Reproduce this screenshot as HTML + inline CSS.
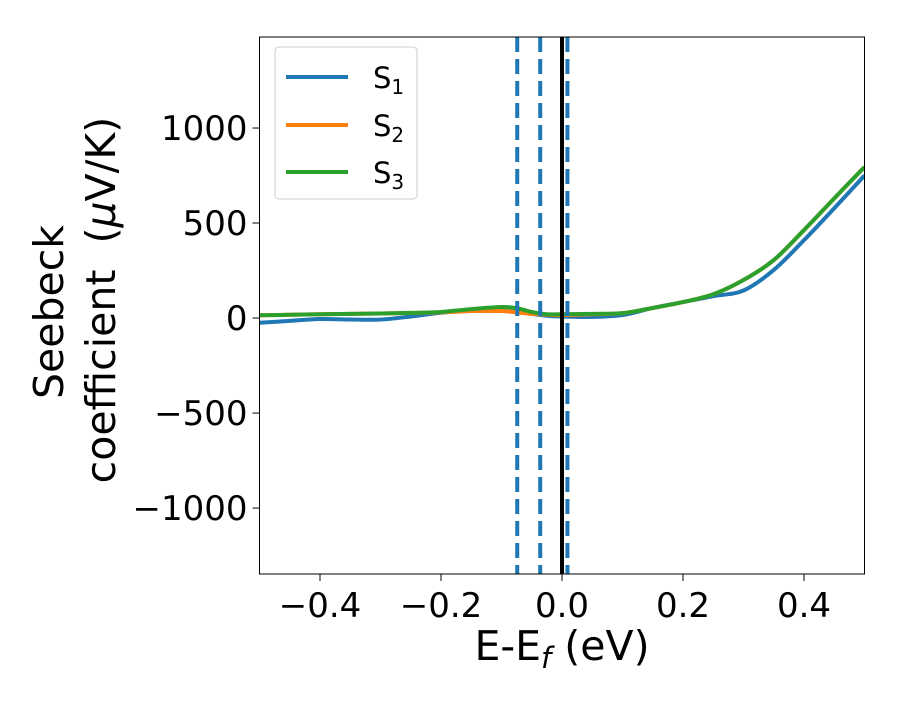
<!DOCTYPE html>
<html><head><meta charset="utf-8"><style>
body{margin:0;background:#fff;}
svg text{font-family:"DejaVu Sans","Liberation Sans",sans-serif;fill:#000;}
</style></head><body>
<svg id="chart" width="900" height="700" xmlns="http://www.w3.org/2000/svg">
<g id="plot"></g>
</svg>
<script>
const xs = [-0.5,-0.45,-0.4,-0.35,-0.3,-0.25,-0.2,-0.15,-0.1,-0.075,-0.05,-0.025,0,0.05,0.1,0.15,0.2,0.25,0.3,0.35,0.4,0.45,0.5];
const s1 = [-25,-15,-5,-8,-8,8,28,37,37,33,22,12,8,6,16,53,84,115,145,253,410,578,750];
const s2 = [15,17,20,22,24,27,30,37,37,30,22,18,15,20,26,53,84,125,200,305,463,630,795];
const s3 = [15,17,20,22,24,27,32,47,58,52,32,20,20,22,26,53,84,125,200,305,463,630,795];
const vlines = [-0.074,-0.036,0.009];
const xTicks = [-0.4,-0.2,0.0,0.2,0.4];
const xTickLabels = ["\u22120.4","\u22120.2","0.0","0.2","0.4"];
const yTicks = [-1000,-500,0,500,1000];
const yTickLabels = ["\u22121000","\u2212500","0","500","1000"];

const L=259.5,R=864.5,T=37,B=574;
const xMin=-0.5,xMax=0.5,yMin=-1347,yMax=1479;
const X=v=>L+(v-xMin)/(xMax-xMin)*(R-L);
const Y=v=>B-(v-yMin)/(yMax-yMin)*(B-T);
const NS="http://www.w3.org/2000/svg";
const g=document.getElementById('plot');
function mk(tag,attrs,parent){const e=document.createElementNS(NS,tag);for(const k in attrs)e.setAttribute(k,attrs[k]);(parent||g).appendChild(e);return e;}
const defs=mk('defs',{});const cp=mk('clipPath',{id:'clip'},defs);mk('rect',{x:L,y:T,width:R-L,height:B-T},cp);
function path(ys){const p=xs.map((x,i)=>[X(x),Y(ys[i])]);let d=`M${p[0][0]},${p[0][1]}`;
for(let i=0;i<p.length-1;i++){const p0=p[Math.max(0,i-1)],p1=p[i],p2=p[i+1],p3=p[Math.min(p.length-1,i+2)];
d+=` C${p1[0]+(p2[0]-p0[0])/6},${p1[1]+(p2[1]-p0[1])/6} ${p2[0]-(p3[0]-p1[0])/6},${p2[1]-(p3[1]-p1[1])/6} ${p2[0]},${p2[1]}`;}return d;}
const series=[[s1,'#1f77b4','series-s1'],[s2,'#ff7f0e','series-s2'],[s3,'#2ca02c','series-s3']];
series.forEach(s=>{const e=mk('path',{d:path(s[0]),fill:'none',stroke:s[1],'stroke-width':4,'clip-path':'url(#clip)'});

});
vlines.forEach((v,i)=>{const e=mk('line',{x1:X(v),x2:X(v),y1:T,y2:B,stroke:'#1f77b4','stroke-width':4,'stroke-dasharray':'15 7'});

});
const z=mk('line',{x1:X(0),x2:X(0),y1:T,y2:B,stroke:'#000','stroke-width':4});


const fr=mk('rect',{x:L,y:T,width:R-L,height:B-T,fill:'none',stroke:'#000','stroke-width':1});


xTicks.forEach((v,i)=>{mk('line',{x1:X(v),x2:X(v),y1:B,y2:B+7,stroke:'#000'});
const t=mk('text',{x:X(v),y:B+43,'font-size':34,'text-anchor':'middle'});t.textContent=xTickLabels[i];

});
yTicks.forEach((v,i)=>{mk('line',{x1:L-7,x2:L,y1:Y(v),y2:Y(v),stroke:'#000'});
const t=mk('text',{x:L-12,y:Y(v)+12,'font-size':34,'text-anchor':'end'});t.textContent=yTickLabels[i];

});
</script>
<svg width="900" height="700" style="position:absolute;left:0;top:0" xmlns="http://www.w3.org/2000/svg">
<text x="562" y="660" font-size="41" text-anchor="middle">E-E<tspan font-style="italic" font-size="29" dy="8">f</tspan><tspan dy="-8"> (eV)</tspan></text>
<g transform="translate(63,312) rotate(-90)"><text x="0" y="0" font-size="41" text-anchor="middle">Seebeck</text></g>
<g transform="translate(115,300) rotate(-90)"><text x="0" y="0" font-size="41" text-anchor="middle">coefficient&#160; (<tspan font-style="italic">μ</tspan>V/K)</text></g>
<g>
<rect x="275" y="47" width="142" height="152" rx="4" fill="#fff" stroke="#ccc"/>
<line x1="286" y1="77" x2="348" y2="77" stroke="#1f77b4" stroke-width="4"/>
<text x="373" y="88" font-size="29">S<tspan font-size="20" dy="6">1</tspan></text>
<line x1="286" y1="125" x2="348" y2="125" stroke="#ff7f0e" stroke-width="4"/>
<text x="373" y="136" font-size="29">S<tspan font-size="20" dy="6">2</tspan></text>
<line x1="286" y1="172" x2="348" y2="172" stroke="#2ca02c" stroke-width="4"/>
<text x="373" y="183" font-size="29">S<tspan font-size="20" dy="6">3</tspan></text>
</g>
</svg>
</body></html>
